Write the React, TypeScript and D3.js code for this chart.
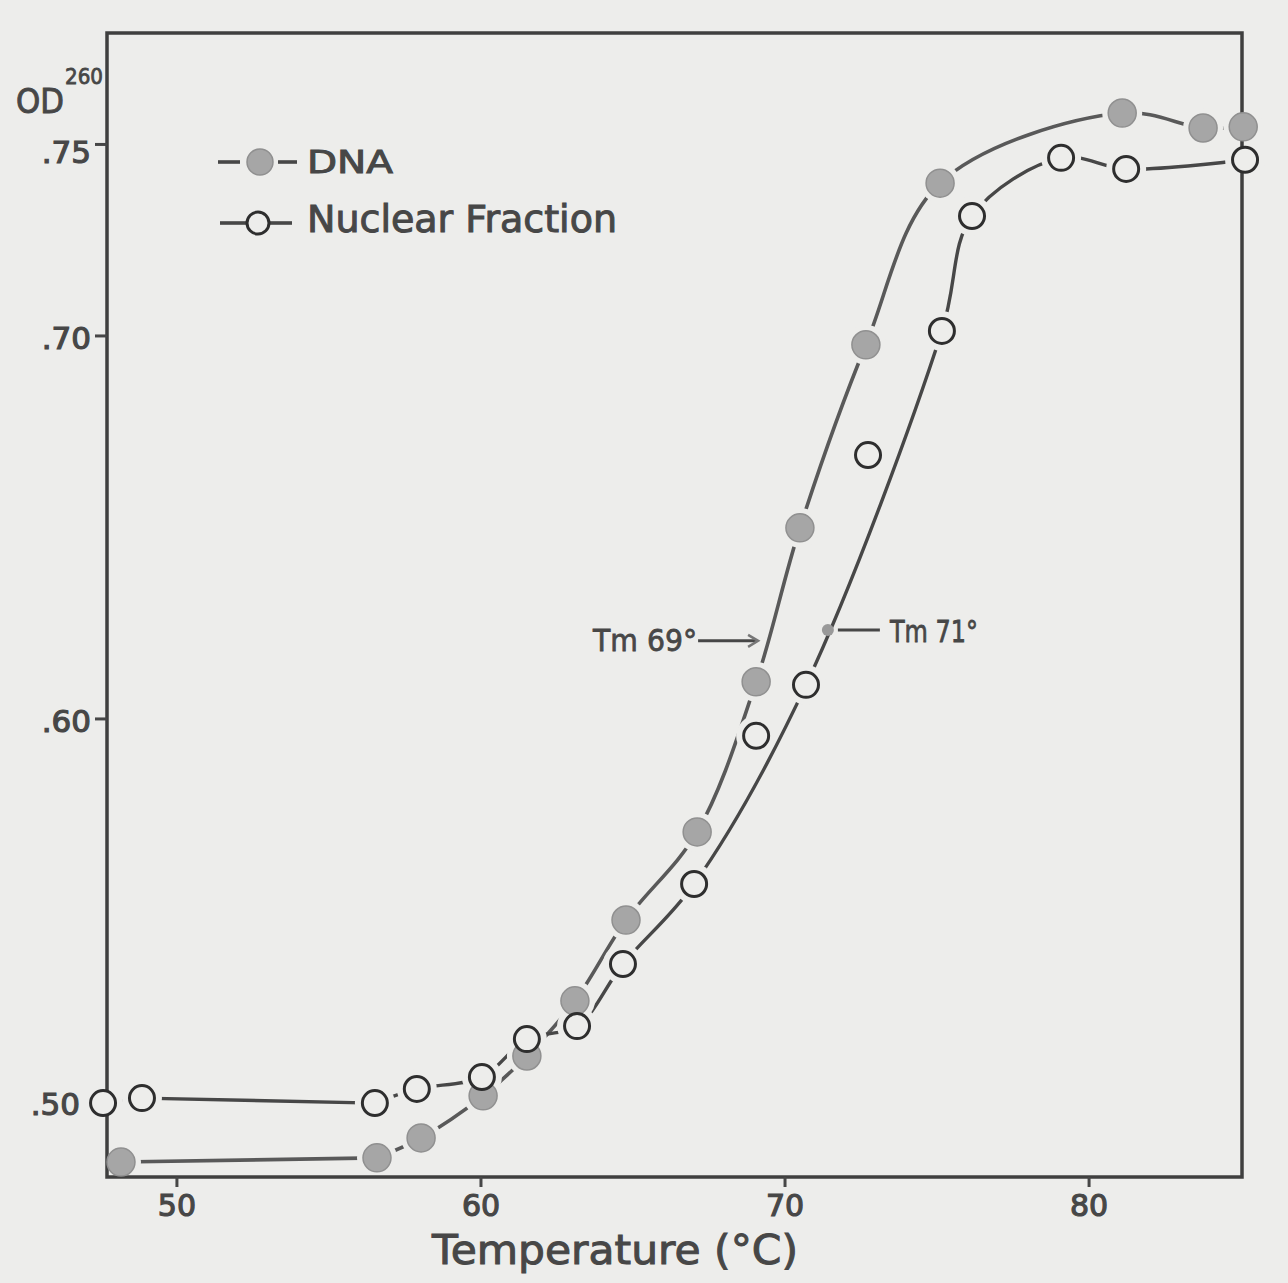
import React, { useEffect, useRef } from 'react'
import * as d3 from 'd3'

// values
const dnaTemp = [48.16, 56.58, 58.03, 60.07, 61.51, 63.09, 64.77, 67.11, 69.05, 70.49, 72.66, 75.1, 81.09, 83.75, 85.07]
const dnaOD = [0.4843, 0.4854, 0.4906, 0.5016, 0.512, 0.5264, 0.5475, 0.5705, 0.6097, 0.6499, 0.6977, 0.7399, 0.7582, 0.7543, 0.7546]

const nucTemp = [47.57, 48.85, 56.51, 57.89, 60.03, 61.51, 63.16, 64.67, 67.01, 69.05, 70.69, 72.73, 75.16, 76.15, 79.08, 81.22, 85.13]
const nucOD = [0.4997, 0.501, 0.4997, 0.5034, 0.5065, 0.5164, 0.5198, 0.536, 0.5569, 0.5956, 0.6089, 0.6689, 0.7013, 0.7313, 0.7465, 0.7436, 0.746]
// indexes of points the drawn curve passes beside, not through
const nucOffCurve = [9, 11]

const xTicks = [50, 60, 70, 80]
const yTicks = [0.5, 0.6, 0.7, 0.75]
const yTickLabels = ['.50', '.60', '.70', '.75']

const tmLabels = ['Tm 69°', 'Tm 71°']
const tmTemp = [69.18, 71.41]
const tmOD = [0.6204, 0.6232]

const PAPER = '#ededeb'
const INK = '#474747'
const GREY = '#a6a6a6'
const FONT = '"DejaVu Sans", sans-serif'

function App() {
    const ref = useRef<SVGSVGElement>(null)

    useEffect(() => {
        const svg = d3.select(ref.current)
        svg.selectAll('*').remove()

        const w = 1288, h = 1283
        const left = 107, right = 1242, top = 33, bottom = 1177

        let x = d3.scaleLinear().domain([47.7, 85.03]).range([left, right])
        let y = d3.scaleLinear().domain([0.4804, 0.7791]).range([bottom, top])

        svg.append('rect').attr('width', w).attr('height', h).attr('fill', PAPER)

        const dna = dnaTemp.map((t, i) => ({ t, v: dnaOD[i] }))
        const nuc = nucTemp.map((t, i) => ({ t, v: nucOD[i], off: nucOffCurve.includes(i) }))

        let straight = d3.line<any>().x(d => x(d.t)).y(d => y(d.v))
        let smooth = d3.line<any>().x(d => x(d.t)).y(d => y(d.v))
            .curve(d3.curveCatmullRom.alpha(0.5))

        // the flat baseline is ruled straight, the melt is drawn freehand
        const drawSeries = (pts: any[], flatCount: number, color: string, width: number) => {
            svg.append('path')
                .attr('d', straight(pts.slice(0, flatCount)))
                .attr('fill', 'none').attr('stroke', color).attr('stroke-width', width)
            svg.append('path')
                .attr('d', smooth(pts.slice(flatCount - 1)))
                .attr('fill', 'none').attr('stroke', color).attr('stroke-width', width)
                .attr('stroke-linecap', 'round')
        }
        drawSeries(dna, 2, '#595959', 3.6)
        drawSeries(nuc.filter(d => !d.off), 3, INK, 3.4)

        // paper halos leave the small gaps the pen left round each circle
        const halos = svg.append('g')
        dna.concat(nuc).forEach(d => {
            halos.append('circle')
                .attr('cx', x(d.t)).attr('cy', y(d.v))
                .attr('r', 20)
                .attr('fill', PAPER)
        })

        // frame
        svg.append('rect')
            .attr('x', left).attr('y', top)
            .attr('width', right - left).attr('height', bottom - top)
            .attr('fill', 'none')
            .attr('stroke', '#3f3f3f')
            .attr('stroke-width', 3.5)

        xTicks.forEach(t => {
            svg.append('line')
                .attr('x1', x(t)).attr('x2', x(t))
                .attr('y1', bottom).attr('y2', bottom + 10)
                .attr('stroke', INK).attr('stroke-width', 3)
            svg.append('text')
                .attr('x', x(t)).attr('y', 1216)
                .attr('text-anchor', 'middle')
                .attr('font-family', FONT)
                .attr('font-size', 30)
                .attr('fill', INK)
                .attr('stroke', INK).attr('stroke-width', 1.2)
                .text(t)
        })

        yTicks.forEach((v, i) => {
            svg.append('line')
                .attr('x1', left - 12).attr('x2', left)
                .attr('y1', y(v)).attr('y2', y(v))
                .attr('stroke', INK).attr('stroke-width', 3)
            svg.append('text')
                .attr('x', left - (v === 0.5 ? 27 : 16)).attr('y', y(v) + (v > 0.72 ? 19 : 13))
                .attr('text-anchor', 'end')
                .attr('font-family', FONT)
                .attr('font-size', 31)
                .attr('fill', INK)
                .attr('stroke', INK).attr('stroke-width', 1.2)
                .text(yTickLabels[i])
        })

        // markers
        dna.forEach(d => {
            svg.append('circle')
                .attr('cx', x(d.t)).attr('cy', y(d.v))
                .attr('r', 14)
                .attr('fill', GREY)
                .attr('stroke', '#909090')
                .attr('stroke-width', 1.5)
        })
        nuc.forEach(d => {
            svg.append('circle')
                .attr('cx', x(d.t)).attr('cy', y(d.v))
                .attr('r', 12.5)
                .attr('fill', PAPER)
                .attr('stroke', '#2e2e2e')
                .attr('stroke-width', 3)
        })

        // axis titles
        svg.append('text')
            .attr('x', 16).attr('y', 113)
            .attr('font-family', FONT).attr('font-size', 34)
            .attr('textLength', 48).attr('lengthAdjust', 'spacingAndGlyphs')
            .attr('fill', INK).attr('stroke', INK).attr('stroke-width', 1)
            .text('OD')
        svg.append('text')
            .attr('x', 65).attr('y', 84)
            .attr('font-family', FONT).attr('font-size', 21)
            .attr('textLength', 38).attr('lengthAdjust', 'spacingAndGlyphs')
            .attr('fill', INK).attr('stroke', INK).attr('stroke-width', 0.8)
            .text('260')

        svg.append('text')
            .attr('x', 432).attr('y', 1264)
            .attr('font-family', FONT)
            .attr('font-size', 41)
            .attr('textLength', 366)
            .attr('lengthAdjust', 'spacingAndGlyphs')
            .attr('fill', INK)
            .attr('stroke', INK).attr('stroke-width', 1)
            .text('Temperature (°C)')

        // legend
        const lg = svg.append('g').attr('stroke', INK).attr('stroke-width', 3.6)
        lg.append('line').attr('x1', 218).attr('x2', 240).attr('y1', 162).attr('y2', 162)
        lg.append('line').attr('x1', 278).attr('x2', 297).attr('y1', 162).attr('y2', 162)
        lg.append('circle').attr('cx', 260).attr('cy', 162).attr('r', 13)
            .attr('fill', GREY).attr('stroke', '#909090').attr('stroke-width', 1.5)
        lg.append('line').attr('x1', 220).attr('x2', 246).attr('y1', 223).attr('y2', 223)
        lg.append('line').attr('x1', 270).attr('x2', 292).attr('y1', 223).attr('y2', 223)
        lg.append('circle').attr('cx', 258).attr('cy', 223).attr('r', 11)
            .attr('fill', PAPER).attr('stroke', '#2e2e2e').attr('stroke-width', 3)

        svg.append('text')
            .attr('x', 307).attr('y', 173)
            .attr('font-family', FONT).attr('font-size', 32)
            .attr('textLength', 86).attr('lengthAdjust', 'spacingAndGlyphs')
            .attr('fill', INK).attr('stroke', INK).attr('stroke-width', 1)
            .text('DNA')
        svg.append('text')
            .attr('x', 307).attr('y', 232)
            .attr('font-family', FONT).attr('font-size', 37)
            .attr('textLength', 310).attr('lengthAdjust', 'spacingAndGlyphs')
            .attr('fill', INK).attr('stroke', INK).attr('stroke-width', 1)
            .text('Nuclear Fraction')

        // Tm annotations
        const tx0 = x(tmTemp[0]), ty0 = y(tmOD[0])
        svg.append('line')
            .attr('x1', tx0 - 62).attr('x2', tx0 - 3)
            .attr('y1', ty0).attr('y2', ty0)
            .attr('stroke', INK).attr('stroke-width', 3)
        svg.append('path')
            .attr('d', `M${tx0 - 12},${ty0 - 6}L${tx0 - 2},${ty0}L${tx0 - 12},${ty0 + 6}`)
            .attr('fill', 'none').attr('stroke', '#777').attr('stroke-width', 2.5)
        svg.append('text')
            .attr('x', tx0 - 167).attr('y', ty0 + 10)
            .attr('font-family', FONT).attr('font-size', 31)
            .attr('textLength', 104).attr('lengthAdjust', 'spacingAndGlyphs')
            .attr('fill', INK).attr('stroke', INK).attr('stroke-width', 0.8)
            .text(tmLabels[0])

        const tx1 = x(tmTemp[1]), ty1 = y(tmOD[1])
        svg.append('circle')
            .attr('cx', tx1).attr('cy', ty1).attr('r', 6)
            .attr('fill', '#999')
        svg.append('line')
            .attr('x1', tx1 + 10).attr('x2', tx1 + 52)
            .attr('y1', ty1).attr('y2', ty1)
            .attr('stroke', INK).attr('stroke-width', 3)
        svg.append('text')
            .attr('x', tx1 + 62).attr('y', ty1 + 12)
            .attr('font-family', FONT).attr('font-size', 31)
            .attr('textLength', 88).attr('lengthAdjust', 'spacingAndGlyphs')
            .attr('fill', INK).attr('stroke', INK).attr('stroke-width', 0.8)
            .text(tmLabels[1])
    }, [])

    return (
        <svg ref={ref} width={1288} height={1283}
            style={{ position: 'absolute', left: 0, top: 0, display: 'block' }} />
    )
}

export default App
